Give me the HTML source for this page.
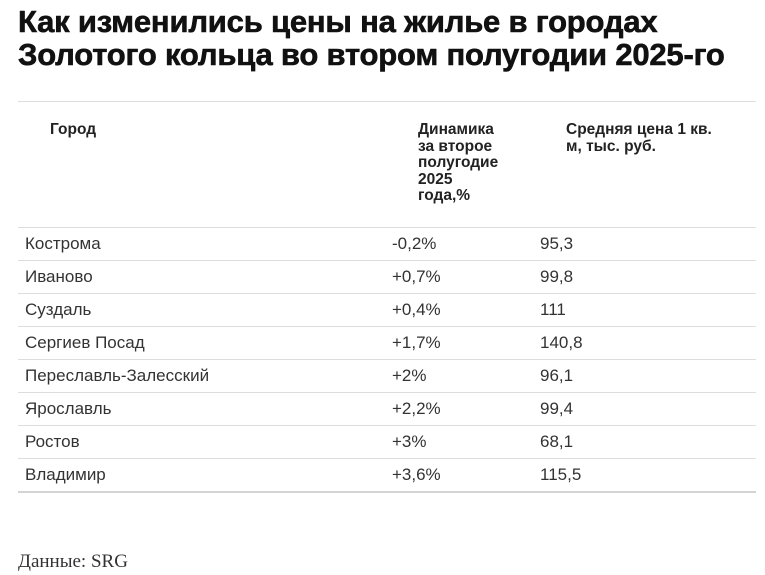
<!DOCTYPE html>
<html><head><meta charset="utf-8"><style>
body{margin:0;width:765px;height:575px;background:#fff;position:relative;font-family:"Liberation Sans","DejaVu Sans",sans-serif;color:#222;overflow:hidden}
.t{position:absolute;left:18px;top:5px;font-size:31px;font-weight:bold;line-height:33px;color:#111;letter-spacing:-0.2px;white-space:nowrap;-webkit-text-stroke:0.6px #111}
.hl{position:absolute;left:18px;width:738px;height:1px;background:#ddd}
.h{position:absolute;font-size:15.5px;font-weight:bold;line-height:16.5px;color:#222;white-space:nowrap}
.c{position:absolute;font-size:17px;line-height:33px;color:#333;white-space:nowrap}
.src{position:absolute;left:18px;top:551px;font-family:"Liberation Serif",serif;font-size:19px;color:#333}
</style></head><body>
<div class="t">Как изменились цены на жилье в городах<br>Золотого кольца во втором полугодии 2025-го</div>
<div class="hl" style="top:101px"></div>
<div class="h" style="left:50px;top:122px">Город</div>
<div class="h" style="left:418px;top:122px">Динамика<br>за второе<br>полугодие<br>2025<br>года,%</div>
<div class="h" style="left:566px;top:122px">Средняя цена 1 кв.<br>м, тыс. руб.</div>
<div class="hl" style="top:227px"></div>
<div class="c" style="left:25px;top:227px">Кострома</div><div class="c" style="left:392px;top:227px">-0,2%</div><div class="c" style="left:540px;top:227px">95,3</div>
<div class="hl" style="top:260px"></div>
<div class="c" style="left:25px;top:260px">Иваново</div><div class="c" style="left:392px;top:260px">+0,7%</div><div class="c" style="left:540px;top:260px">99,8</div>
<div class="hl" style="top:293px"></div>
<div class="c" style="left:25px;top:293px">Суздаль</div><div class="c" style="left:392px;top:293px">+0,4%</div><div class="c" style="left:540px;top:293px">111</div>
<div class="hl" style="top:326px"></div>
<div class="c" style="left:25px;top:326px">Сергиев Посад</div><div class="c" style="left:392px;top:326px">+1,7%</div><div class="c" style="left:540px;top:326px">140,8</div>
<div class="hl" style="top:359px"></div>
<div class="c" style="left:25px;top:359px">Переславль-Залесский</div><div class="c" style="left:392px;top:359px">+2%</div><div class="c" style="left:540px;top:359px">96,1</div>
<div class="hl" style="top:392px"></div>
<div class="c" style="left:25px;top:392px">Ярославль</div><div class="c" style="left:392px;top:392px">+2,2%</div><div class="c" style="left:540px;top:392px">99,4</div>
<div class="hl" style="top:425px"></div>
<div class="c" style="left:25px;top:425px">Ростов</div><div class="c" style="left:392px;top:425px">+3%</div><div class="c" style="left:540px;top:425px">68,1</div>
<div class="hl" style="top:458px"></div>
<div class="c" style="left:25px;top:458px">Владимир</div><div class="c" style="left:392px;top:458px">+3,6%</div><div class="c" style="left:540px;top:458px">115,5</div>
<div class="hl" style="top:491px;height:2px;background:#d4d4d4"></div>
<div class="src">Данные: SRG</div>
</body></html>
